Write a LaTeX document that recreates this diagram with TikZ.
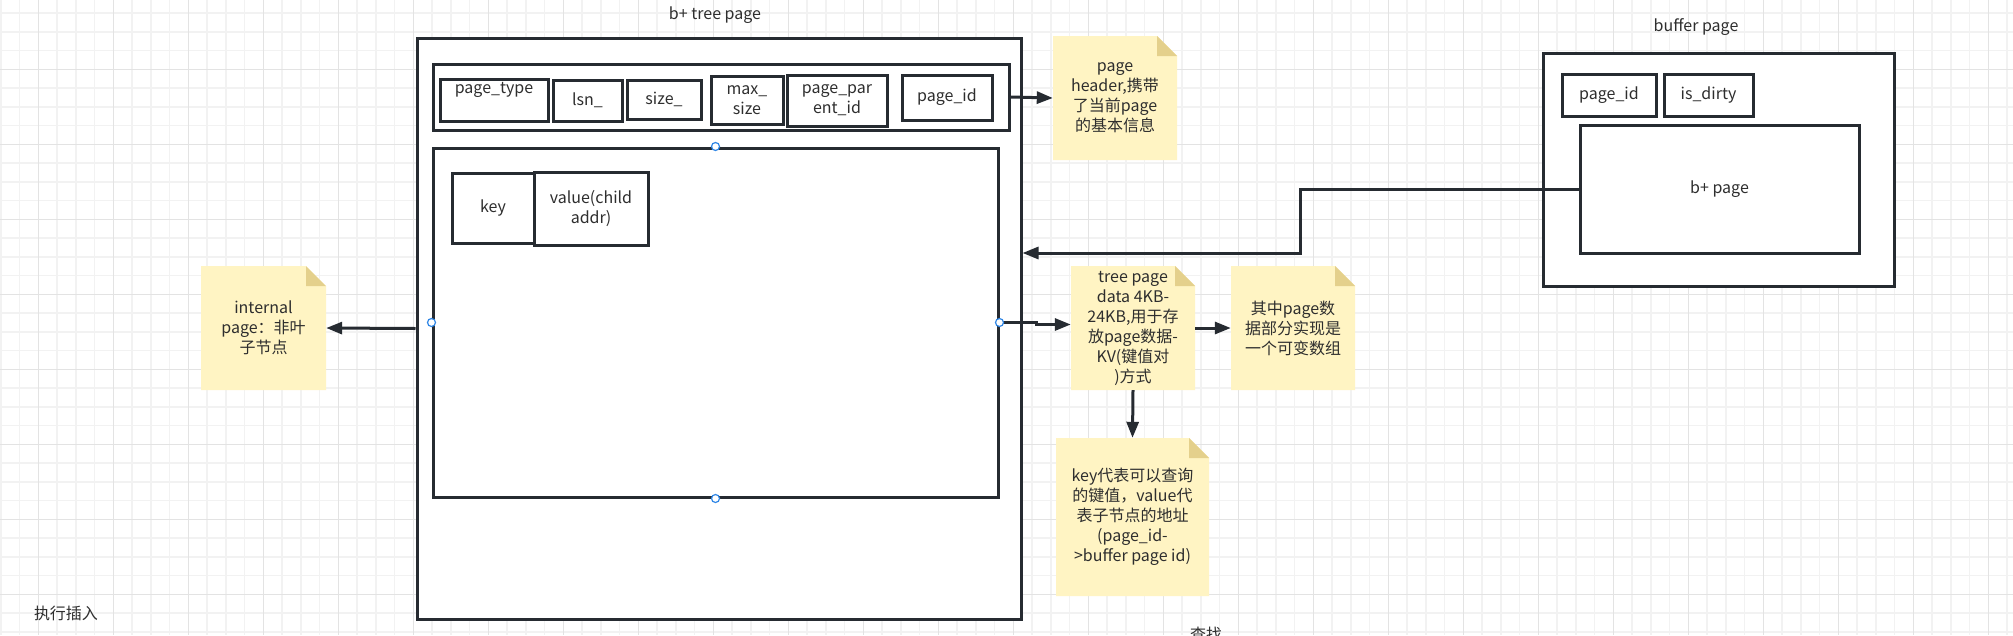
\documentclass[tikz,border=0pt]{standalone}
\usepackage{fontspec}
\setmainfont{Noto Sans CJK SC}
\usetikzlibrary{arrows.meta,calc}
\definecolor{linec}{HTML}{262B31}
\definecolor{textc}{HTML}{2E2E2E}
\definecolor{notefill}{HTML}{FFF4C3}
\definecolor{foldc}{HTML}{E4D08C}
\definecolor{minorg}{HTML}{F2F2F2}
\definecolor{majorg}{HTML}{E3E3E3}
\definecolor{handlec}{HTML}{2F86E6}
\tikzset{
  txt/.style={text=textc, font=\fontsize{16}{20}\selectfont, align=center, inner sep=0pt},
  box/.style={txt, draw=linec, line width=3pt, fill=white, inner sep=0pt},
  notebox/.style={txt, minimum width=124pt, minimum height=124pt,
    path picture={
      \fill[notefill] (path picture bounding box.north west)
        -- ([xshift=-20pt]path picture bounding box.north east)
        -- ([yshift=-20pt]path picture bounding box.north east)
        -- (path picture bounding box.south east)
        -- (path picture bounding box.south west) -- cycle;
      \fill[foldc] ([xshift=-20pt]path picture bounding box.north east)
        -- ([xshift=-20pt,yshift=-20pt]path picture bounding box.north east)
        -- ([yshift=-20pt]path picture bounding box.north east) -- cycle;
    }},
  arr/.style={draw=linec, line width=3pt, -{Triangle[length=16pt,width=12pt]}},
  handle/.style={circle, draw=handlec, fill=white, line width=1.2pt, minimum size=8pt, inner sep=0pt},
  minorline/.style={draw=minorg, line width=1.4pt},
  majorline/.style={draw=majorg, line width=1.4pt}
}
\begin{document}
\begin{tikzpicture}[x=1pt,y=-1pt]
\useasboundingbox (0,0) rectangle (2013,635);
\fill[white] (0,0) rectangle (2013,635);
% grid
\foreach \i in {0,...,107} { \draw[minorline] ({0.8+18.75*\i},0) -- ++(0,635); }
\foreach \i in {0,...,34} { \draw[minorline] (0,{13.05+18.75*\i}) -- ++(2013,0); }
\foreach \i in {0,...,26} { \draw[majorline] ({38.3+75*\i},0) -- ++(0,635); }
\foreach \i in {0,...,8} { \draw[majorline] (0,{69.3+75*\i}) -- ++(2013,0); }

% b+ tree page
\node[txt] (tlabel) at (715,15) {b+ tree page};
\node[box, minimum width=604pt, minimum height=581pt] (outer) at (719,328.5) {};
\node[box, minimum width=576pt, minimum height=66pt] (header) at (721,97) {};
\node[box, minimum width=108pt, minimum height=42pt] (ptype) at (494,100) {page\_type\\\phantom{p}};
\node[box, minimum width=69pt, minimum height=41pt] (lsn) at (587.5,100.5) {lsn\_};
\node[box, minimum width=74pt, minimum height=39pt] (size) at (664,99.5) {size\_};
\node[box, minimum width=72pt, minimum height=48pt] (maxsize) at (747,100) {max\_\\size};
\node[box, minimum width=100pt, minimum height=51pt] (parent) at (837,100.5) {page\_par\\ent\_id};
\node[box, minimum width=90pt, minimum height=45pt] (pid) at (947,97.5) {page\_id};

\node[box, minimum width=565pt, minimum height=349pt] (data) at (715.5,322.5) {};
\node[box, minimum width=82pt, minimum height=70pt] (key) at (493,208) {key};
\node[box, minimum width=114pt, minimum height=73pt] (value) at (591,208.5) {value(child\\addr)};

% buffer page
\node[txt] (blabel) at (1696,27) {buffer page};
\node[box, minimum width=351pt, minimum height=233pt] (buffer) at (1718.5,169.5) {};
\node[box, minimum width=94pt, minimum height=42pt] (bpid) at (1609,95) {page\_id};
\node[box, minimum width=89pt, minimum height=42pt] (dirty) at (1708.5,95) {is\_dirty};
\node[box, minimum width=279pt, minimum height=128pt] (bpage) at (1719.5,189) {b+ page};

% notes
\node[notebox] (hnote) at (1115,98) {page\\header,携带\\了当前page\\的基本信息};
\node[notebox, minimum width=125pt] (inote) at (263.5,328) {internal\\page：非叶\\子节点};
\node[notebox] (tnote) at (1133,328) {tree page\\data 4KB-\\24KB,用于存\\放page数据-\\KV(键值对\\)方式};
\node[notebox] (anote) at (1293,328) {其中page数\\据部分实现是\\一个可变数组};
\node[notebox, minimum width=153pt, minimum height=158pt] (knote) at (1132.5,517) {key代表可以查询\\的键值，value代\\表子节点的地址\\(page\_id-\\>buffer page id)};

% free labels
\node[txt] (insert) at (66,613) {执行插入};
\node[txt] (search) at (1206,634) {查找};

% connectors
\draw[arr] (header.east) -- (hnote.west);
\draw[arr] (outer.west) -- (inote.east);
\draw[arr] (data.east) -- ++(37,0) |- ([yshift=-2pt]data.east -| tnote.west);
\draw[arr] (tnote.east) -- (anote.west);
\draw[arr] (tnote.south) -- (knote.north);
\coordinate (turn) at (1300,253);
\draw[arr] (bpage.west) -| (turn) -- (turn -| outer.east);

% selection handles
\node[handle] (h1) at (data.north) {};
\node[handle] (h2) at (data.west) {};
\node[handle] (h3) at (data.east) {};
\node[handle] (h4) at (data.south) {};
\end{tikzpicture}
\end{document}
